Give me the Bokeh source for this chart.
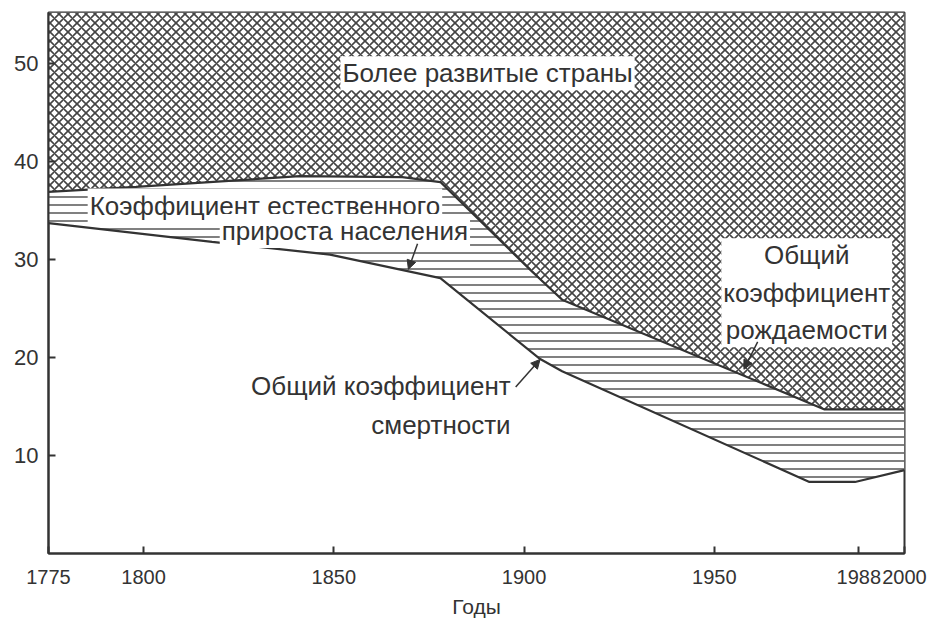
from bokeh.plotting import figure
from bokeh.models import Range1d, FixedTicker, Label, Arrow, NormalHead
from bokeh.embed import file_html
from bokeh.resources import INLINE

# ---- data ----
birth_years = [1775, 1798, 1841, 1868, 1878, 1902, 1910, 1979, 2000]
birth_rate = [36.9, 37.4, 38.5, 38.4, 37.9, 28.8, 25.9, 14.7, 14.7]
death_years = [1775, 1818, 1849, 1878, 1904, 1910, 1975, 1987, 2000]
death_rate = [33.7, 31.8, 30.5, 28.1, 19.9, 18.6, 7.3, 7.3, 8.5]
x_ticks = [1775, 1800, 1850, 1900, 1950, 1988, 2000]
y_ticks = [10, 20, 30, 40, 50]

X_MIN, X_MAX = 1775, 2000
Y_MIN, Y_MAX = 0, 55.2
FONT = "Liberation Sans"
INK = "#333333"

p = figure(frame_width=856, frame_height=541,
           x_range=Range1d(X_MIN, X_MAX), y_range=Range1d(Y_MIN, Y_MAX),
           output_backend="svg", toolbar_location=None,
           min_border_left=48, min_border_right=36,
           min_border_top=12, min_border_bottom=70)

p.grid.visible = False
p.outline_line_color = INK
p.outline_line_width = 2
p.background_fill_color = "white"

# cross-hatched region above the birth rate
top_xs = birth_years + [X_MAX, X_MIN]
top_ys = birth_rate + [Y_MAX, Y_MAX]
p.patch(top_xs, top_ys, fill_color="white", line_color=None,
        hatch_pattern="diagonal_cross", hatch_scale=9, hatch_weight=1.6,
        hatch_color="#444444")

# horizontally hatched region between birth and death rates
mid_xs = birth_years + death_years[::-1]
mid_ys = birth_rate + death_rate[::-1]
p.patch(mid_xs, mid_ys, fill_color="white", line_color=None,
        hatch_pattern="horizontal_line", hatch_scale=8, hatch_weight=1.5,
        hatch_color="#555555")

p.line(birth_years, birth_rate, line_width=2.2, line_color=INK)
p.line(death_years, death_rate, line_width=2.2, line_color=INK)

# axes
for ax in (p.xaxis[0], p.yaxis[0]):
    ax.major_tick_in = 7
    ax.major_tick_out = 0
    ax.minor_tick_in = 0
    ax.minor_tick_out = 0
    ax.axis_line_width = 2
    ax.axis_line_color = INK
    ax.major_tick_line_color = INK
    ax.major_tick_line_width = 2
    ax.major_label_text_font = FONT
    ax.major_label_text_color = INK

p.xaxis.ticker = FixedTicker(ticks=x_ticks)
p.yaxis.ticker = FixedTicker(ticks=y_ticks)
p.xaxis.major_label_text_font_size = "20px"
p.yaxis.major_label_text_font_size = "22px"
p.xaxis.major_label_standoff = 16
p.yaxis.major_label_standoff = 10
p.xaxis.axis_label = "Годы"
p.xaxis.axis_label_text_font = FONT
p.xaxis.axis_label_text_font_size = "21px"
p.xaxis.axis_label_text_font_style = "normal"
p.xaxis.axis_label_text_color = INK
p.xaxis.axis_label_standoff = 8


def add_label(x, y, text, align="left", lh=1.3):
    lbl = Label(x=x, y=y, text=text, text_font=FONT, text_font_size="26px",
                text_color=INK, text_align=align, text_baseline="middle",
                text_line_height=lh,
                background_fill_color="white", padding=2)
    p.add_layout(lbl)


add_label(1890.4, 49.0, "Более развитые страны", "center")
add_label(1785.3, 35.5, "Коэффициент естественного", "left")
add_label(1885.8, 32.9, "прироста населения", "right")
add_label(1897.0, 15.1, "Общий коэффициент\nсмертности", "right", 1.3)
add_label(1974.3, 26.6, "Общий\nкоэффициент\nрождаемости", "center", 1.25)


def add_arrow(x0, y0, x1, y1):
    p.add_layout(Arrow(end=NormalHead(size=9, fill_color=INK, line_color=INK),
                       x_start=x0, y_start=y0, x_end=x1, y_end=y1,
                       line_width=1.5, line_color=INK))


add_arrow(1872.0, 31.6, 1869.6, 29.0)
add_arrow(1897.8, 17.0, 1904.2, 19.8)
add_arrow(1961.4, 21.6, 1957.8, 18.8)

open("out.html", "w").write(file_html(p, INLINE))
